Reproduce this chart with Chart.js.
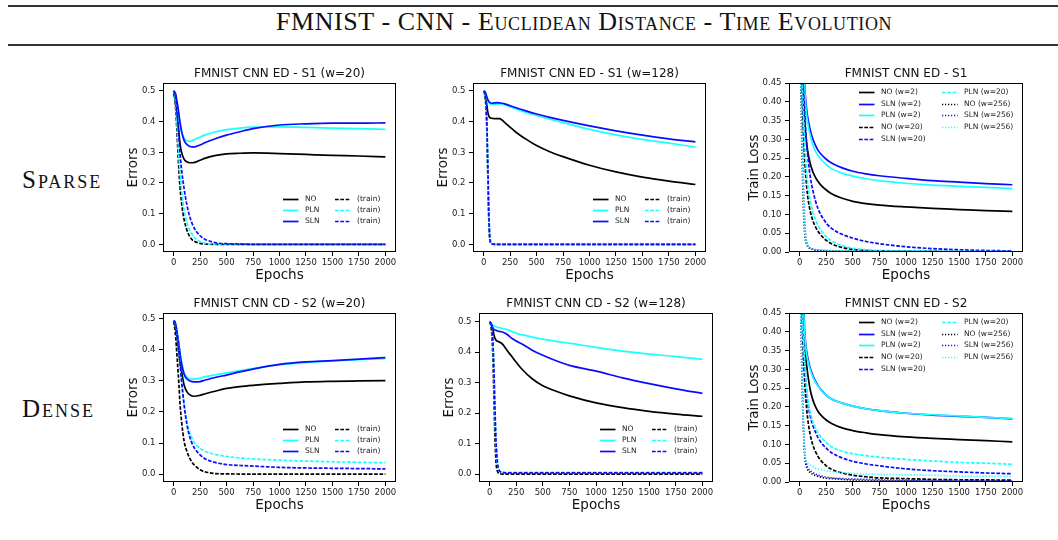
<!DOCTYPE html>
<html>
<head>
<meta charset="utf-8">
<title>FMNIST - CNN - Euclidean Distance - Time Evolution</title>
<script src="https://cdn.jsdelivr.net/npm/chart.js@4.4.0/dist/chart.umd.min.js"></script>
<style>
    body { margin: 0; width: 1058px; height: 540px; background: #fff; position: relative; overflow: hidden; }
    .rule { position: absolute; left: 8px; right: 0; background: #333; }
    .rule.top { top: 5px; height: 2px; }
    .rule.bottom { top: 44px; height: 1.5px; }
    .heading, .row-label {
        position: absolute;
        font-family: 'Liberation Serif', 'DejaVu Serif', serif;
        font-variant: small-caps;
        color: #111;
        white-space: nowrap;
    }
    .heading { left: 0; width: 1168px; text-align: center; top: 7px; font-size: 26px; line-height: 30px; letter-spacing: 0.6px; }
    .row-label { left: 22px; font-size: 25px; line-height: 30px; letter-spacing: 2px; }
    canvas { position: absolute; }
</style>
</head>
<body>
<div class="rule top"></div>
<div class="heading">FMNIST - CNN - Euclidean Distance - Time Evolution</div>
<div class="rule bottom"></div>
<div class="row-label" style="top:165px">Sparse</div>
<div class="row-label" style="top:394px">Dense</div>

<canvas id="edS1w20"></canvas>
<canvas id="edS1w128"></canvas>
<canvas id="edS1loss"></canvas>
<canvas id="cdS2w20"></canvas>
<canvas id="cdS2w128"></canvas>
<canvas id="edS2loss"></canvas>

<script>
const epochs = [0, 10, 20, 30, 40, 50, 60, 75, 100, 125, 150, 175, 200, 250, 300, 400, 500, 625, 750, 1000, 1250, 1500, 1750, 2000];
const epochTicks = [0, 250, 500, 750, 1000, 1250, 1500, 1750, 2000];
const errorTicks = [0, 0.1, 0.2, 0.3, 0.4, 0.5];
const lossTicks = [0, 0.05, 0.1, 0.15, 0.2, 0.25, 0.3, 0.35, 0.4, 0.45];

const errorLabels = ['NO', 'PLN', 'SLN', '(train)', '(train)', '(train)'];
const lossLabels = ['NO (w=2)', 'SLN (w=2)', 'PLN (w=2)', 'NO (w=20)', 'SLN (w=20)', 'PLN (w=20)', 'NO (w=256)', 'SLN (w=256)', 'PLN (w=256)'];

// ED - S1 (w=20)
const edS1w20NO = [0.49, 0.48, 0.46, 0.43, 0.40, 0.365, 0.33, 0.30, 0.277, 0.269, 0.266, 0.266, 0.267, 0.274, 0.281, 0.29, 0.295, 0.297, 0.298, 0.296, 0.293, 0.29, 0.288, 0.285];
const edS1w20PLN = [0.50, 0.495, 0.48, 0.46, 0.44, 0.415, 0.39, 0.365, 0.345, 0.338, 0.336, 0.338, 0.342, 0.35, 0.357, 0.367, 0.374, 0.379, 0.382, 0.383, 0.381, 0.379, 0.377, 0.375];
const edS1w20SLN = [0.50, 0.497, 0.49, 0.47, 0.45, 0.425, 0.40, 0.37, 0.338, 0.326, 0.32, 0.318, 0.318, 0.324, 0.332, 0.345, 0.356, 0.367, 0.377, 0.389, 0.393, 0.395, 0.395, 0.396];
const edS1w20NOTrain = [0.50, 0.48, 0.44, 0.38, 0.31, 0.245, 0.19, 0.135, 0.08, 0.047, 0.027, 0.015, 0.009, 0.003, 0.001, 0, 0, 0, 0, 0, 0, 0, 0, 0];
const edS1w20PLNTrain = [0.50, 0.49, 0.46, 0.41, 0.35, 0.29, 0.24, 0.18, 0.11, 0.072, 0.047, 0.032, 0.021, 0.009, 0.004, 0.001, 0, 0, 0, 0, 0, 0, 0, 0];
const edS1w20SLNTrain = [0.50, 0.495, 0.48, 0.44, 0.40, 0.35, 0.30, 0.245, 0.18, 0.13, 0.093, 0.068, 0.05, 0.028, 0.016, 0.005, 0.002, 0.001, 0, 0, 0, 0, 0, 0];

// ED - S1 (w=128)
const edS1w128NO = [0.50, 0.495, 0.48, 0.455, 0.43, 0.418, 0.413, 0.411, 0.41, 0.41, 0.41, 0.405, 0.397, 0.382, 0.367, 0.343, 0.322, 0.302, 0.286, 0.258, 0.236, 0.219, 0.206, 0.195];
const edS1w128PLN = [0.50, 0.497, 0.49, 0.478, 0.468, 0.462, 0.458, 0.456, 0.457, 0.458, 0.458, 0.457, 0.455, 0.448, 0.442, 0.43, 0.42, 0.408, 0.397, 0.375, 0.357, 0.342, 0.33, 0.317];
const edS1w128SLN = [0.50, 0.498, 0.492, 0.482, 0.472, 0.466, 0.462, 0.46, 0.461, 0.462, 0.461, 0.46, 0.458, 0.452, 0.446, 0.435, 0.425, 0.414, 0.404, 0.386, 0.37, 0.356, 0.344, 0.334];
const edS1w128NOTrain = [0.50, 0.49, 0.46, 0.38, 0.22, 0.07, 0.012, 0.001, 0, 0, 0, 0, 0, 0, 0, 0, 0, 0, 0, 0, 0, 0, 0, 0];
const edS1w128PLNTrain = [0.50, 0.49, 0.47, 0.40, 0.25, 0.09, 0.018, 0.002, 0, 0, 0, 0, 0, 0, 0, 0, 0, 0, 0, 0, 0, 0, 0, 0];
const edS1w128SLNTrain = [0.50, 0.495, 0.47, 0.41, 0.26, 0.10, 0.02, 0.003, 0.0005, 0, 0, 0, 0, 0, 0, 0, 0, 0, 0, 0, 0, 0, 0, 0];

// ED - S1 train loss
const edS1NOw2 = [0.75, 0.66, 0.56, 0.46, 0.39, 0.34, 0.305, 0.27, 0.235, 0.213, 0.198, 0.187, 0.178, 0.165, 0.155, 0.143, 0.135, 0.129, 0.125, 0.12, 0.116, 0.113, 0.11, 0.108];
const edS1SLNw2 = [0.8, 0.72, 0.63, 0.55, 0.48, 0.43, 0.395, 0.36, 0.325, 0.30, 0.283, 0.27, 0.261, 0.247, 0.237, 0.224, 0.215, 0.208, 0.203, 0.196, 0.19, 0.186, 0.182, 0.179];
const edS1PLNw2 = [0.8, 0.71, 0.62, 0.54, 0.47, 0.42, 0.38, 0.345, 0.31, 0.285, 0.268, 0.256, 0.247, 0.233, 0.222, 0.21, 0.202, 0.195, 0.19, 0.183, 0.178, 0.175, 0.172, 0.169];
const edS1NOw20 = [0.7, 0.58, 0.46, 0.36, 0.29, 0.235, 0.195, 0.15, 0.108, 0.083, 0.066, 0.054, 0.045, 0.031, 0.022, 0.012, 0.007, 0.004, 0.003, 0.002, 0.0015, 0.001, 0.001, 0.001];
const edS1SLNw20 = [0.7, 0.63, 0.55, 0.47, 0.41, 0.36, 0.31, 0.26, 0.20, 0.163, 0.135, 0.114, 0.099, 0.077, 0.063, 0.047, 0.037, 0.028, 0.022, 0.014, 0.009, 0.006, 0.004, 0.003];
const edS1PLNw20 = [0.7, 0.6, 0.5, 0.41, 0.34, 0.28, 0.235, 0.185, 0.135, 0.105, 0.085, 0.07, 0.058, 0.041, 0.03, 0.017, 0.01, 0.006, 0.004, 0.003, 0.002, 0.0015, 0.001, 0.001];
const edS1NOw256 = [0.6, 0.45, 0.30, 0.17, 0.085, 0.042, 0.025, 0.015, 0.009, 0.007, 0.005, 0.0045, 0.004, 0.003, 0.0025, 0.002, 0.0015, 0.001, 0.001, 0.0008, 0.0005, 0.0005, 0.0005, 0.0005];
const edS1SLNw256 = [0.6, 0.5, 0.38, 0.25, 0.14, 0.07, 0.035, 0.018, 0.01, 0.008, 0.006, 0.005, 0.0045, 0.0035, 0.003, 0.0025, 0.002, 0.0015, 0.0012, 0.001, 0.0008, 0.0008, 0.0008, 0.0008];
const edS1PLNw256 = [0.6, 0.48, 0.35, 0.22, 0.12, 0.06, 0.032, 0.018, 0.011, 0.009, 0.007, 0.006, 0.0055, 0.0045, 0.004, 0.003, 0.0025, 0.002, 0.0018, 0.0015, 0.0013, 0.0012, 0.0011, 0.001];

// CD - S2 (w=20)
const cdS2w20NO = [0.49, 0.485, 0.47, 0.445, 0.42, 0.39, 0.36, 0.33, 0.285, 0.265, 0.255, 0.251, 0.25, 0.253, 0.258, 0.267, 0.275, 0.281, 0.285, 0.291, 0.296, 0.298, 0.299, 0.30];
const cdS2w20PLN = [0.49, 0.488, 0.48, 0.46, 0.44, 0.415, 0.39, 0.36, 0.325, 0.312, 0.306, 0.304, 0.305, 0.308, 0.313, 0.319, 0.325, 0.332, 0.339, 0.351, 0.358, 0.363, 0.367, 0.371];
const cdS2w20SLN = [0.49, 0.492, 0.48, 0.46, 0.44, 0.415, 0.39, 0.355, 0.32, 0.306, 0.30, 0.297, 0.296, 0.297, 0.302, 0.311, 0.318, 0.328, 0.337, 0.352, 0.36, 0.364, 0.369, 0.374];
const cdS2w20NOTrain = [0.49, 0.47, 0.44, 0.39, 0.34, 0.29, 0.23, 0.17, 0.105, 0.074, 0.053, 0.038, 0.028, 0.014, 0.007, 0.002, 0.001, 0.0005, 0, 0, 0, 0, 0, 0];
const cdS2w20PLNTrain = [0.49, 0.488, 0.48, 0.46, 0.43, 0.40, 0.36, 0.30, 0.225, 0.17, 0.135, 0.115, 0.10, 0.083, 0.073, 0.063, 0.057, 0.052, 0.049, 0.045, 0.042, 0.04, 0.038, 0.037];
const cdS2w20SLNTrain = [0.49, 0.49, 0.48, 0.46, 0.43, 0.40, 0.36, 0.30, 0.22, 0.16, 0.123, 0.098, 0.082, 0.062, 0.049, 0.037, 0.031, 0.028, 0.026, 0.022, 0.02, 0.019, 0.018, 0.017];

// CD - S2 (w=128)
const cdS2w128NO = [0.50, 0.497, 0.49, 0.475, 0.458, 0.446, 0.44, 0.436, 0.432, 0.425, 0.413, 0.401, 0.39, 0.367, 0.346, 0.313, 0.29, 0.272, 0.257, 0.234, 0.218, 0.206, 0.197, 0.19];
const cdS2w128PLN = [0.50, 0.497, 0.492, 0.488, 0.486, 0.485, 0.484, 0.482, 0.48, 0.478, 0.476, 0.473, 0.47, 0.462, 0.458, 0.45, 0.443, 0.436, 0.43, 0.416, 0.404, 0.394, 0.386, 0.377];
const cdS2w128SLN = [0.50, 0.497, 0.49, 0.48, 0.475, 0.473, 0.472, 0.47, 0.468, 0.466, 0.462, 0.456, 0.448, 0.437, 0.428, 0.407, 0.39, 0.372, 0.357, 0.338, 0.316, 0.297, 0.28, 0.265];
const cdS2w128NOTrain = [0.50, 0.49, 0.46, 0.39, 0.26, 0.12, 0.04, 0.008, 0.001, 0, 0, 0, 0, 0, 0, 0, 0, 0, 0, 0, 0, 0, 0, 0];
const cdS2w128PLNTrain = [0.50, 0.495, 0.48, 0.43, 0.33, 0.20, 0.10, 0.03, 0.009, 0.007, 0.006, 0.006, 0.006, 0.006, 0.006, 0.006, 0.006, 0.006, 0.006, 0.006, 0.006, 0.006, 0.006, 0.006];
const cdS2w128SLNTrain = [0.50, 0.495, 0.48, 0.44, 0.35, 0.22, 0.11, 0.035, 0.008, 0.005, 0.004, 0.004, 0.004, 0.004, 0.004, 0.004, 0.004, 0.004, 0.004, 0.004, 0.004, 0.004, 0.004, 0.004];

// ED - S2 train loss
const edS2NOw2 = [0.75, 0.66, 0.56, 0.47, 0.41, 0.36, 0.325, 0.29, 0.245, 0.218, 0.20, 0.187, 0.178, 0.165, 0.156, 0.144, 0.137, 0.131, 0.126, 0.12, 0.116, 0.113, 0.11, 0.107];
const edS2SLNw2 = [0.8, 0.72, 0.62, 0.52, 0.45, 0.39, 0.36, 0.333, 0.303, 0.283, 0.268, 0.256, 0.246, 0.231, 0.221, 0.21, 0.202, 0.195, 0.19, 0.183, 0.178, 0.175, 0.172, 0.168];
const edS2PLNw2 = [0.8, 0.71, 0.61, 0.51, 0.44, 0.385, 0.352, 0.326, 0.298, 0.279, 0.265, 0.254, 0.245, 0.231, 0.221, 0.21, 0.202, 0.195, 0.19, 0.183, 0.179, 0.176, 0.172, 0.169];
const edS2NOw20 = [0.7, 0.58, 0.47, 0.38, 0.31, 0.255, 0.215, 0.17, 0.125, 0.098, 0.08, 0.067, 0.057, 0.043, 0.034, 0.024, 0.018, 0.014, 0.011, 0.009, 0.007, 0.006, 0.0055, 0.005];
const edS2SLNw20 = [0.7, 0.6, 0.5, 0.42, 0.355, 0.30, 0.26, 0.215, 0.175, 0.15, 0.132, 0.117, 0.106, 0.09, 0.078, 0.064, 0.055, 0.048, 0.043, 0.035, 0.03, 0.027, 0.024, 0.022];
const edS2PLNw20 = [0.7, 0.6, 0.5, 0.42, 0.36, 0.31, 0.27, 0.225, 0.185, 0.16, 0.143, 0.13, 0.12, 0.105, 0.094, 0.082, 0.075, 0.07, 0.066, 0.06, 0.056, 0.052, 0.05, 0.047];
const edS2NOw256 = [0.6, 0.45, 0.31, 0.19, 0.11, 0.065, 0.045, 0.033, 0.025, 0.02, 0.017, 0.015, 0.013, 0.01, 0.009, 0.007, 0.005, 0.004, 0.0035, 0.003, 0.0025, 0.002, 0.002, 0.002];
const edS2SLNw256 = [0.6, 0.48, 0.34, 0.21, 0.12, 0.07, 0.05, 0.039, 0.03, 0.025, 0.021, 0.018, 0.016, 0.013, 0.011, 0.009, 0.008, 0.007, 0.006, 0.005, 0.0045, 0.004, 0.004, 0.004];
const edS2PLNw256 = [0.6, 0.47, 0.33, 0.20, 0.12, 0.075, 0.058, 0.05, 0.045, 0.041, 0.037, 0.035, 0.033, 0.03, 0.028, 0.025, 0.023, 0.021, 0.02, 0.019, 0.018, 0.016, 0.0155, 0.015];

document.addEventListener('DOMContentLoaded', function() {
    const BLACK = '#000000';
    const CYAN = '#1affff';
    const BLUE = '#0a0aff';
    const SOLID = [];
    const DASHED = [3.7, 1.6];
    const DOTTED = [1.2, 1.8];

    Chart.defaults.font.family = "'DejaVu Sans', sans-serif";
    Chart.defaults.color = '#222';

    // later series go on top, as in matplotlib
    function series(label, values, color, dash, index) {
        return {
            label: label,
            data: epochs.map((e, i) => ({ x: e, y: values[i] })),
            borderColor: color,
            borderWidth: 1.7,
            borderDash: dash,
            pointRadius: 0,
            cubicInterpolationMode: 'monotone',
            fill: false,
            order: -index
        };
    }

    // Box round the plot, like matplotlib spines
    const frame = {
        id: 'frame',
        afterDatasetsDraw(chart) {
            const a = chart.chartArea;
            const ctx = chart.ctx;
            ctx.save();
            ctx.strokeStyle = '#000';
            ctx.lineWidth = 1;
            ctx.strokeRect(Math.round(a.left) + 0.5, Math.round(a.top) + 0.5, Math.round(a.width) - 1, Math.round(a.height) - 1);
            ctx.restore();
        }
    };

    // Legend drawn inside the axes, two columns without a box
    const insideLegend = {
        id: 'insideLegend',
        afterDraw(chart, args, opts) {
            const a = chart.chartArea;
            const ctx = chart.ctx;
            ctx.save();
            ctx.font = "7.5px 'DejaVu Sans'";
            ctx.textBaseline = 'middle';
            ctx.fillStyle = '#222';
            chart.data.datasets.forEach((ds, i) => {
                const col = Math.floor(i / opts.rows);
                const row = i % opts.rows;
                const x = a.right + opts.colX[col];
                const y = Math.round((opts.fromTop ? a.top : a.bottom) + opts.y0 + row * opts.rowGap) + 0.5;
                ctx.strokeStyle = ds.borderColor;
                ctx.lineWidth = ds.borderWidth;
                ctx.setLineDash(ds.borderDash);
                ctx.beginPath();
                ctx.moveTo(x, y);
                ctx.lineTo(x + 15.5, y);
                ctx.stroke();
                ctx.setLineDash([]);
                ctx.fillText(ds.label, x + 22, y);
            });
            ctx.restore();
        }
    };

    function makeChart(id, box, title, yTitle, yRange, yTicks, digits, datasets, legend) {
        const canvas = document.getElementById(id);
        const side = box.side;
        canvas.width = side * 2 + box.w;
        canvas.height = 20 + box.h + 32;
        canvas.style.left = (box.left - side) + 'px';
        canvas.style.top = (box.top - 20) + 'px';
        return new Chart(canvas.getContext('2d'), {
            type: 'line',
            data: { datasets: datasets },
            options: {
                responsive: false,
                animation: false,
                devicePixelRatio: 1,
                layout: { padding: 0 },
                plugins: {
                    legend: { display: false },
                    tooltip: { enabled: false },
                    title: {
                        display: true,
                        text: title,
                        color: '#111',
                        font: { size: 12, weight: 'normal', lineHeight: 1.2 },
                        padding: { top: 4, bottom: 1.6 }
                    },
                    insideLegend: legend
                },
                scales: {
                    x: {
                        type: 'linear',
                        bounds: 'data',
                        min: -100,
                        max: 2100,
                        afterBuildTicks: s => { s.ticks = epochTicks.map(v => ({ value: v })); },
                        afterFit: s => { s.height = 32; s.paddingLeft = 0; s.paddingRight = 0; },
                        ticks: { font: { size: 8.5 }, padding: 1.5, maxRotation: 0, minRotation: 0, autoSkip: false, callback: v => String(v) },
                        grid: { drawOnChartArea: false, drawTicks: true, tickLength: 4, color: '#000', lineWidth: 1 },
                        border: { display: false },
                        title: { display: true, text: 'Epochs', color: '#111', font: { size: 13.5, lineHeight: 1.2 }, padding: { top: 0, bottom: 0.9 } }
                    },
                    y: {
                        type: 'linear',
                        bounds: 'data',
                        min: yRange[0],
                        max: yRange[1],
                        afterBuildTicks: s => { s.ticks = yTicks.map(v => ({ value: v })); },
                        afterFit: s => { s.width = side; s.paddingTop = 0; s.paddingBottom = 0; },
                        ticks: { font: { size: 8.5 }, padding: 3.5, callback: v => v.toFixed(digits) },
                        grid: { drawOnChartArea: false, drawTicks: true, tickLength: 4, color: '#000', lineWidth: 1 },
                        border: { display: false },
                        title: { display: true, text: yTitle, color: '#111', font: { size: 13.5, lineHeight: 1.2 }, padding: { top: side - box.yLabel - 8.1, bottom: 0 } }
                    },
                    // empty right box so the title centres over the plot
                    spacer: {
                        type: 'linear',
                        position: 'right',
                        afterFit: s => { s.width = side; s.paddingTop = 0; s.paddingBottom = 0; },
                        ticks: { display: false },
                        grid: { display: false },
                        border: { display: false }
                    }
                }
            },
            plugins: [frame, insideLegend]
        });
    }

    function errorSets(values) {
        const colors = [BLACK, CYAN, BLUE];
        return values.map((v, i) => series(errorLabels[i], v, colors[i % 3], i < 3 ? SOLID : DASHED, i));
    }

    function lossSets(values) {
        const colors = [BLACK, BLUE, CYAN];
        const dashes = [SOLID, DASHED, DOTTED];
        return values.map((v, i) => series(lossLabels[i], v, colors[i % 3], dashes[Math.floor(i / 3)], i));
    }

    const errLegend = { rows: 3, colX: [-113, -61], fromTop: false, y0: -53, rowGap: 11 };
    const lossLegend = { rows: 5, colX: [-164, -81], fromTop: true, y0: 9, rowGap: 11.7 };

    // Sparse row
    makeChart('edS1w20', { left: 163, top: 83, w: 233, h: 169, side: 40, yLabel: 30 },
        'FMNIST CNN ED - S1 (w=20)', 'Errors', [-0.025, 0.526], errorTicks, 1,
        errorSets([edS1w20NO, edS1w20PLN, edS1w20SLN, edS1w20NOTrain, edS1w20PLNTrain, edS1w20SLNTrain]), errLegend);

    makeChart('edS1w128', { left: 473, top: 83, w: 233, h: 169, side: 40, yLabel: 30 },
        'FMNIST CNN ED - S1 (w=128)', 'Errors', [-0.025, 0.526], errorTicks, 1,
        errorSets([edS1w128NO, edS1w128PLN, edS1w128SLN, edS1w128NOTrain, edS1w128PLNTrain, edS1w128SLNTrain]), errLegend);

    makeChart('edS1loss', { left: 789, top: 83, w: 234, h: 169, side: 46, yLabel: 35 },
        'FMNIST CNN ED - S1', 'Train Loss', [0, 0.45], lossTicks, 2,
        lossSets([edS1NOw2, edS1SLNw2, edS1PLNw2, edS1NOw20, edS1SLNw20, edS1PLNw20, edS1NOw256, edS1SLNw256, edS1PLNw256]), lossLegend);

    // Dense row
    makeChart('cdS2w20', { left: 163, top: 313, w: 233, h: 169, side: 40, yLabel: 30 },
        'FMNIST CNN CD - S2 (w=20)', 'Errors', [-0.025, 0.517], errorTicks, 1,
        errorSets([cdS2w20NO, cdS2w20PLN, cdS2w20SLN, cdS2w20NOTrain, cdS2w20PLNTrain, cdS2w20SLNTrain]), errLegend);

    makeChart('cdS2w128', { left: 479, top: 313, w: 234, h: 169, side: 40, yLabel: 30 },
        'FMNIST CNN CD - S2 (w=128)', 'Errors', [-0.026, 0.529], errorTicks, 1,
        errorSets([cdS2w128NO, cdS2w128PLN, cdS2w128SLN, cdS2w128NOTrain, cdS2w128PLNTrain, cdS2w128SLNTrain]), errLegend);

    makeChart('edS2loss', { left: 789, top: 313, w: 234, h: 169, side: 46, yLabel: 35 },
        'FMNIST CNN ED - S2', 'Train Loss', [0, 0.45], lossTicks, 2,
        lossSets([edS2NOw2, edS2SLNw2, edS2PLNw2, edS2NOw20, edS2SLNw20, edS2PLNw20, edS2NOw256, edS2SLNw256, edS2PLNw256]), lossLegend);
});
</script>
</body>
</html>
